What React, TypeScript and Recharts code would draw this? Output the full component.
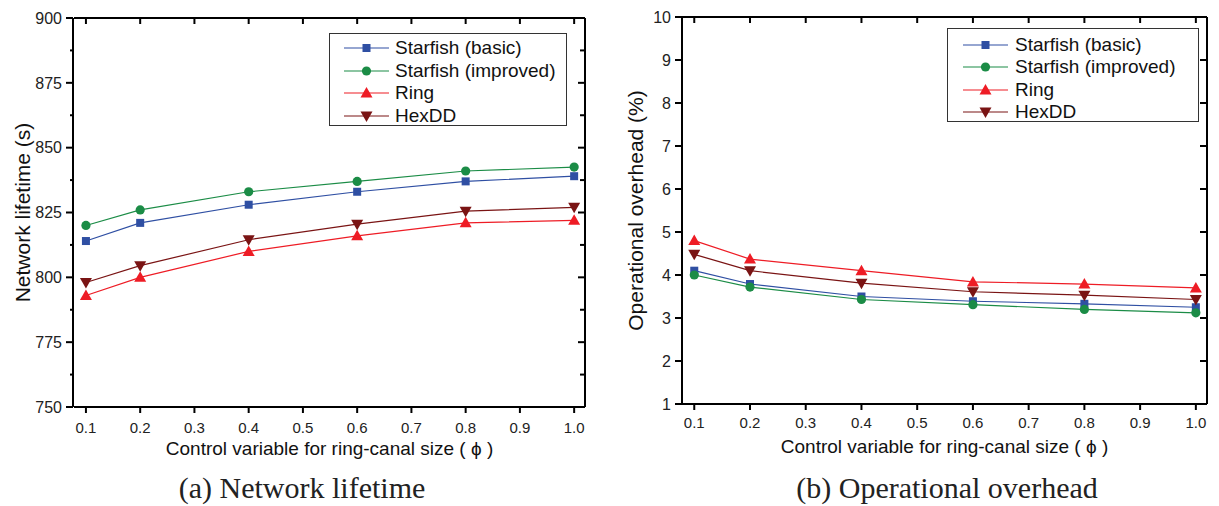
import React from 'react';
import { LineChart, Line, XAxis, YAxis, Legend } from 'recharts';

// ---------- data ----------
const phiValues = [0.1, 0.2, 0.4, 0.6, 0.8, 1.0];
const xTicks = [0.1, 0.2, 0.3, 0.4, 0.5, 0.6, 0.7, 0.8, 0.9, 1.0];

const lifetimeBasic = [814, 821, 828, 833, 837, 839];
const lifetimeImproved = [820, 826, 833, 837, 841, 842.5];
const lifetimeRing = [793, 800, 810, 816, 821, 822];
const lifetimeHexDD = [798, 804.5, 814.5, 820.5, 825.5, 827];
const lifetimeTicks = [750, 775, 800, 825, 850, 875, 900];
const lifetimeMinorTicks = [762.5, 787.5, 812.5, 837.5, 862.5, 887.5];

const overheadBasic = [4.1, 3.79, 3.5, 3.39, 3.33, 3.25];
const overheadImproved = [4.0, 3.72, 3.43, 3.31, 3.2, 3.12];
const overheadRing = [4.8, 4.37, 4.1, 3.84, 3.79, 3.7];
const overheadHexDD = [4.48, 4.1, 3.81, 3.61, 3.53, 3.43];
const overheadTicks = [1, 2, 3, 4, 5, 6, 7, 8, 9, 10];

const seriesNames = ['Starfish (basic)', 'Starfish (improved)', 'Ring', 'HexDD'];
const seriesKeys = ['basic', 'improved', 'ring', 'hexdd'];
const seriesColors = ['#2f4fa3', '#1b8c46', '#ee1c25', '#7a1414'];
const seriesShapes = ['square', 'circle', 'up', 'down'];

const lifetimeData = phiValues.map((p, i) => ({
  phi: p,
  basic: lifetimeBasic[i],
  improved: lifetimeImproved[i],
  ring: lifetimeRing[i],
  hexdd: lifetimeHexDD[i],
}));
const overheadData = phiValues.map((p, i) => ({
  phi: p,
  basic: overheadBasic[i],
  improved: overheadImproved[i],
  ring: overheadRing[i],
  hexdd: overheadHexDD[i],
}));

const FONT = 'Arial, "Liberation Sans", sans-serif';

function Marker({ cx, cy, shape, color }: any) {
  if (cx == null || cy == null || isNaN(cx) || isNaN(cy)) return null;
  if (shape === 'square') return <rect x={cx - 4} y={cy - 4} width={8} height={8} fill={color} />;
  if (shape === 'circle') return <circle cx={cx} cy={cy} r={4.6} fill={color} />;
  if (shape === 'up')
    return <path d={`M${cx},${cy - 6} L${cx + 6},${cy + 4.5} L${cx - 6},${cy + 4.5} Z`} fill={color} />;
  return <path d={`M${cx},${cy + 6} L${cx + 6},${cy - 4.5} L${cx - 6},${cy - 4.5} Z`} fill={color} />;
}

const EmptyTick = () => <g />;

function LegendBox({ width, height, lineFrom, lineTo, textLeft, rowTop, rowGap }: any) {
  return (
    <div
      style={{
        position: 'relative',
        width,
        height,
        boxSizing: 'border-box',
        border: '1px solid #333',
        background: '#fff',
        fontFamily: FONT,
      }}
    >
      {seriesNames.map((n, i) => {
        const cy = rowTop + i * rowGap;
        const mid = (lineFrom + lineTo) / 2;
        return (
          <div key={n} style={{ position: 'absolute', left: 0, top: cy - 12, height: 24, width: '100%' }}>
            <svg width={lineTo + 8} height={24} style={{ position: 'absolute', left: 0, top: 0 }}>
              <line x1={lineFrom} y1={12} x2={lineTo} y2={12} stroke={seriesColors[i]} strokeWidth={1.2} />
              <Marker cx={mid} cy={12} shape={seriesShapes[i]} color={seriesColors[i]} />
            </svg>
            <span
              style={{
                position: 'absolute',
                left: textLeft,
                top: 0,
                lineHeight: '24px',
                fontSize: 19,
                color: '#111',
                whiteSpace: 'nowrap',
              }}
            >
              {n}
            </span>
          </div>
        );
      })}
    </div>
  );
}

function VTitle(props: any) {
  const { viewBox, value, dx } = props;
  if (!viewBox) return null;
  const x = viewBox.x + dx;
  const y = viewBox.y + viewBox.height / 2;
  return (
    <text
      x={x}
      y={y}
      transform={`rotate(-90 ${x} ${y})`}
      textAnchor="middle"
      dominantBaseline="central"
      fontSize={21}
      fontFamily={FONT}
      fill="#111"
    >
      {value}
    </text>
  );
}

function HTitle(props: any) {
  const { viewBox, value, dy } = props;
  if (!viewBox) return null;
  const x = viewBox.x + viewBox.width / 2;
  const y = viewBox.y + dy;
  return (
    <text x={x} y={y} textAnchor="middle" dominantBaseline="central" fontSize={19} fontFamily={FONT} fill="#111">
      {value}
    </text>
  );
}

function Panel({
  data,
  width,
  margin,
  yWidth,
  yDomain,
  yTicks,
  minorTicks,
  yTitle,
  yTitleDx,
  xTitleDy,
  xTickMargin,
  legendPos,
  legendProps,
}: any) {
  const axisStroke = { stroke: '#000', strokeWidth: 2 };
  const helperIds = minorTicks ? ['r', 'a', 'rm'] : ['r'];
  return (
    <LineChart width={width} height={506} data={data} margin={margin}>
      <XAxis
        xAxisId="b"
        dataKey="phi"
        type="number"
        domain={[0.078, 1.02]}
        ticks={xTicks}
        allowDataOverflow
        tickFormatter={(v: number) => v.toFixed(1)}
        axisLine={axisStroke}
        tickLine={axisStroke}
        tickSize={6}
        tickMargin={xTickMargin}
        tick={{ fill: '#222', fontSize: 15, fontFamily: FONT }}
        height={30}
        label={<HTitle value="Control variable for ring-canal size ( ϕ )" dy={xTitleDy} />}
      />
      <XAxis
        xAxisId="t"
        orientation="top"
        dataKey="phi"
        type="number"
        domain={[0.078, 1.02]}
        ticks={xTicks}
        allowDataOverflow
        mirror
        tick={<EmptyTick />}
        axisLine={axisStroke}
        tickLine={axisStroke}
        tickSize={6}
        height={1}
      />
      {minorTicks && (
        <YAxis
          yAxisId="a"
          type="number"
          domain={yDomain}
          ticks={minorTicks}
          allowDataOverflow
          width={1}
          axisLine={false}
          tickLine={axisStroke}
          tickSize={4}
          tick={<EmptyTick />}
        />
      )}
      <YAxis
        yAxisId="l"
        type="number"
        domain={yDomain}
        ticks={yTicks}
        allowDataOverflow
        width={minorTicks ? yWidth - 1 : yWidth}
        axisLine={axisStroke}
        tickLine={axisStroke}
        tickSize={7}
        tickMargin={4}
        tick={{ fill: '#222', fontSize: 16, fontFamily: FONT }}
        label={<VTitle value={yTitle} dx={yTitleDx} />}
      />
      <YAxis
        yAxisId="r"
        orientation="right"
        type="number"
        domain={yDomain}
        ticks={yTicks}
        allowDataOverflow
        mirror
        width={1}
        axisLine={axisStroke}
        tickLine={axisStroke}
        tickSize={7}
        tick={<EmptyTick />}
      />
      {minorTicks && (
        <YAxis
          yAxisId="rm"
          orientation="right"
          type="number"
          domain={yDomain}
          ticks={minorTicks}
          allowDataOverflow
          mirror
          width={1}
          axisLine={false}
          tickLine={axisStroke}
          tickSize={4}
          tick={<EmptyTick />}
        />
      )}
      <Legend
        layout="horizontal"
        align="center"
        verticalAlign="middle"
        wrapperStyle={{ left: legendPos.left, top: legendPos.top, width: legendProps.width, height: legendProps.height }}
        content={() => <LegendBox {...legendProps} />}
      />
      {helperIds.map((id) => (
        <Line
          key={`helper-${id}`}
          xAxisId="t"
          yAxisId={id}
          dataKey="basic"
          stroke="none"
          strokeWidth={0}
          dot={false}
          activeDot={false}
          legendType="none"
          isAnimationActive={false}
        />
      ))}
      {seriesKeys.map((k, i) => (
        <Line
          key={k}
          xAxisId="b"
          yAxisId="l"
          dataKey={k}
          name={seriesNames[i]}
          stroke={seriesColors[i]}
          strokeWidth={1.2}
          isAnimationActive={false}
          dot={(p: any) => (
            <Marker key={`${k}-${p.index}`} cx={p.cx} cy={p.cy} shape={seriesShapes[i]} color={seriesColors[i]} />
          )}
          activeDot={false}
        />
      ))}
    </LineChart>
  );
}

export default function App() {
  return (
    <div style={{ position: 'absolute', left: 0, top: 0, width: 1219, height: 506, background: '#fff', overflow: 'hidden' }}>
      <div style={{ position: 'absolute', left: 0, top: 0 }}>
        <Panel
          data={lifetimeData}
          width={600}
          margin={{ top: 18, right: 15, bottom: 69, left: 0 }}
          yWidth={74}
          yDomain={[750, 900]}
          yTicks={lifetimeTicks}
          minorTicks={lifetimeMinorTicks}
          yTitle="Network lifetime (s)"
          yTitleDx={22}
          xTitleDy={41}
          xTickMargin={9}
          legendPos={{ left: 329, top: 33 }}
          legendProps={{ width: 238, height: 93, lineFrom: 14, lineTo: 59, textLeft: 65, rowTop: 14, rowGap: 22.7 }}
        />
      </div>
      <div style={{ position: 'absolute', left: 610, top: 0 }}>
        <Panel
          data={overheadData}
          width={609}
          margin={{ top: 17, right: 12, bottom: 72, left: 0 }}
          yWidth={72}
          yDomain={[1, 10]}
          yTicks={overheadTicks}
          minorTicks={null}
          yTitle="Operational overhead (%)"
          yTitleDx={25}
          xTitleDy={42}
          xTickMargin={7}
          legendPos={{ left: 337, top: 28 }}
          legendProps={{ width: 252, height: 94, lineFrom: 15, lineTo: 60, textLeft: 67, rowTop: 16, rowGap: 22.3 }}
        />
      </div>
      <div
        style={{
          position: 'absolute',
          left: 302,
          top: 488,
          transform: 'translate(-50%, -50%)',
          fontFamily: '"Liberation Serif", "Times New Roman", serif',
          fontSize: 30,
          color: '#222',
          whiteSpace: 'nowrap',
        }}
      >
        (a) Network lifetime
      </div>
      <div
        style={{
          position: 'absolute',
          left: 947,
          top: 488,
          transform: 'translate(-50%, -50%)',
          fontFamily: '"Liberation Serif", "Times New Roman", serif',
          fontSize: 30,
          color: '#222',
          whiteSpace: 'nowrap',
        }}
      >
        (b) Operational overhead
      </div>
    </div>
  );
}
